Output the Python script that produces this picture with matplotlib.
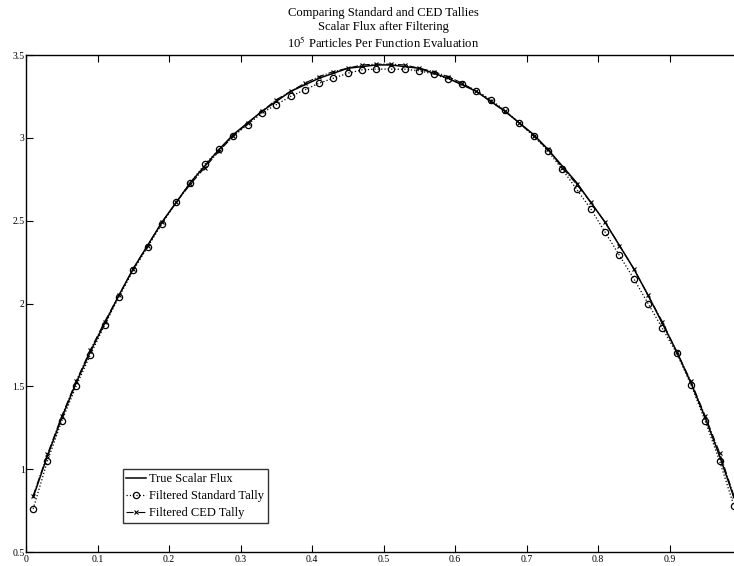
import matplotlib
matplotlib.use("Agg")
import matplotlib.pyplot as plt

plt.rcParams['font.family'] = ['Liberation Serif', 'DejaVu Serif']
plt.rcParams['mathtext.fontset'] = 'stix'

x_vals = [0.01, 0.03, 0.05, 0.07, 0.09, 0.11, 0.13, 0.15, 0.17, 0.19,
          0.21, 0.23, 0.25, 0.27, 0.29, 0.31, 0.33, 0.35, 0.37, 0.39,
          0.41, 0.43, 0.45, 0.47, 0.49, 0.51, 0.53, 0.55, 0.57, 0.59,
          0.61, 0.63, 0.65, 0.67, 0.69, 0.71, 0.73, 0.75, 0.77, 0.79,
          0.81, 0.83, 0.85, 0.87, 0.89, 0.91, 0.93, 0.95, 0.97, 0.99]

true_flux = [0.83, 1.08, 1.31, 1.52, 1.71, 1.88, 2.05, 2.21, 2.35, 2.49,
             2.61, 2.73, 2.83, 2.93, 3.02, 3.09, 3.16, 3.22, 3.28, 3.32,
             3.36, 3.39, 3.42, 3.43, 3.44, 3.44, 3.43, 3.42, 3.39, 3.36,
             3.32, 3.28, 3.22, 3.16, 3.09, 3.02, 2.93, 2.83, 2.73, 2.61,
             2.49, 2.35, 2.21, 2.05, 1.88, 1.71, 1.52, 1.31, 1.08, 0.83]

standard_tally = [0.76, 1.05, 1.29, 1.50, 1.69, 1.87, 2.04, 2.20, 2.34, 2.48,
                  2.61, 2.73, 2.84, 2.93, 3.01, 3.08, 3.15, 3.20, 3.25, 3.29,
                  3.33, 3.36, 3.39, 3.41, 3.415, 3.415, 3.414, 3.405, 3.385, 3.357,
                  3.325, 3.285, 3.23, 3.165, 3.09, 3.013, 2.92, 2.81, 2.69, 2.57,
                  2.43, 2.29, 2.15, 2.00, 1.85, 1.70, 1.51, 1.29, 1.05, 0.78]

ced_tally = [0.84, 1.09, 1.32, 1.53, 1.72, 1.89, 2.05, 2.21, 2.35, 2.49,
             2.61, 2.72, 2.82, 2.92, 3.01, 3.09, 3.16, 3.23, 3.28, 3.33,
             3.37, 3.40, 3.42, 3.44, 3.445, 3.445, 3.44, 3.42, 3.40, 3.37,
             3.33, 3.28, 3.22, 3.16, 3.09, 3.01, 2.93, 2.82, 2.72, 2.61,
             2.49, 2.35, 2.21, 2.05, 1.89, 1.71, 1.53, 1.32, 1.10, 0.84]

x_ticks = [0, 0.1, 0.2, 0.3, 0.4, 0.5, 0.6, 0.7, 0.8, 0.9]
x_tick_labels = ["0", "0.1", "0.2", "0.3", "0.4", "0.5", "0.6", "0.7", "0.8", "0.9"]
y_ticks = [0.5, 1.0, 1.5, 2.0, 2.5, 3.0, 3.5]
y_tick_labels = ["0.5", "1", "1.5", "2", "2.5", "3", "3.5"]

fig = plt.figure(figsize=(7.34, 5.66), dpi=100)
ax = fig.add_axes([26/734, 14/566, 715/734, 497/566])

ax.plot(x_vals, true_flux, '-', color='black', lw=1.1, label='True Scalar Flux')
ax.plot(x_vals, standard_tally, ':', color='black', lw=0.9, marker='o',
        markersize=4.5, markerfacecolor='none', markeredgewidth=0.9,
        label='Filtered Standard Tally')
ax.plot(x_vals, ced_tally, '-.', color='black', lw=0.8, marker='x',
        markersize=3.3, markeredgewidth=0.8, label='Filtered CED Tally')

ax.set_xlim(0, 1)
ax.set_ylim(0.5, 3.5)
ax.set_xticks(x_ticks)
ax.set_xticklabels(x_tick_labels)
ax.set_yticks(y_ticks)
ax.set_yticklabels(y_tick_labels)
ax.tick_params(direction='in', length=5, width=0.8, top=True, right=True,
               labelsize=7, pad=2, colors='black')
ax.tick_params(axis='y', pad=1)
for s in ax.spines.values():
    s.set_linewidth(1.0)

ax.set_title("Comparing Standard and CED Tallies\nScalar Flux after Filtering\n"
             r"10$^5$ Particles Per Function Evaluation",
             fontsize=9.1, pad=5, linespacing=1.2)

leg = ax.legend(loc='lower left', bbox_to_anchor=(0.135, 0.059), borderaxespad=0,
                fontsize=9, frameon=True, fancybox=False, handlelength=1.6,
                handletextpad=0.2, borderpad=0.3, labelspacing=0.4)
leg.get_frame().set_edgecolor('black')
leg.get_frame().set_linewidth(1.0)

fig.savefig("out.png", dpi=100)
